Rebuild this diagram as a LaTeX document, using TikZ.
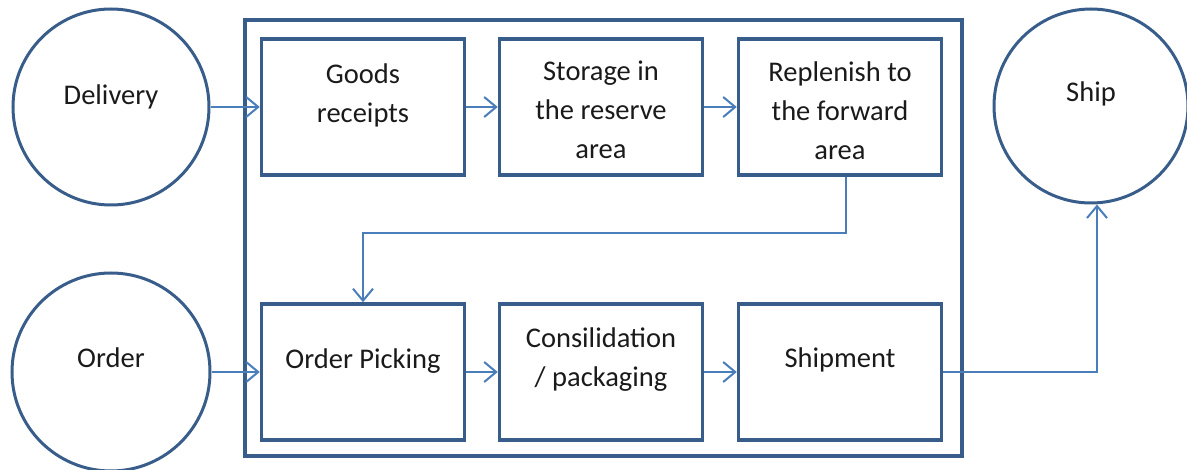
\documentclass[tikz,border=0pt]{standalone}
\usepackage{fontspec}
\setmainfont{Carlito}
\usetikzlibrary{arrows.meta}
\definecolor{boxblue}{HTML}{385D8A}
\definecolor{arrblue}{HTML}{4A7EBB}
\definecolor{txt}{HTML}{1A1A1A}
\begin{document}
\begin{tikzpicture}[x=1pt,y=-1pt,
  circ/.style={circle, draw=boxblue, line width=3pt, minimum size=#1, inner sep=0pt},
  stepbox/.style={rectangle, draw=boxblue, line width=3.5pt, minimum width=203pt, minimum height=136pt, inner sep=0pt},
  framebox/.style={rectangle, draw=boxblue, line width=3.5pt, minimum width=717pt, minimum height=436pt, inner sep=0pt},
  lbl/.style={align=center, inner sep=0pt, text=txt, font=\fontsize{28.5pt}{39pt}\selectfont,
    execute at begin node=\strut, execute at end node=\strut},
  arr/.style={draw=arrblue, line width=2pt, -{Straight Barb[length=12pt,width=20pt]}}
]
\useasboundingbox (0,0) rectangle (1187,470);
% frame
\node[framebox] (frame) at (603.5,238) {};
% circles
\node[circ=196pt] (delivery) at (111,107) {};
\node[circ=198pt] (order) at (111,372) {};
\node[circ=194pt] (ship) at (1091,106) {};
\node[lbl] (tdelivery) at (111,97) {Delivery};
\node[lbl] (torder) at (111,360) {Order};
\node[lbl] (tship) at (1091,94) {Ship};
% boxes
\node[stepbox] (goods) at (363,107) {};
\node[stepbox] (storage) at (601,107) {};
\node[stepbox] (repl) at (840,107) {};
\node[stepbox] (pick) at (363,372) {};
\node[stepbox] (cons) at (601,372) {};
\node[stepbox] (shipm) at (840,372) {};
\node[lbl] (tgoods) at (363,99) {Goods\\receipts};
\node[lbl] (tstorage) at (601,116) {Storage in\\the reserve\\area};
\node[lbl] (trepl) at (840,116) {Replenish to\\the forward\\area};
\node[lbl] (tpick) at (363,361) {Order Picking};
\node[lbl] (tcons) at (601,363) {Consilidation\\/ packaging};
\node[lbl] (tshipm) at (840,360) {Shipment};
% connectors
\draw[arr] (delivery.east) -- (goods.west);
\draw[arr] (goods.east) -- (storage.west);
\draw[arr] (storage.east) -- (repl.west);
\coordinate (bend) at (0,233);
\draw[arr] ([xshift=6pt]repl.south) -- ([xshift=6pt]repl.south |- bend) -| (pick.north);
\draw[arr] (order.east) -- (order.east -| pick.west);
\draw[arr] (pick.east) -- (cons.west);
\draw[arr] (cons.east) -- (shipm.west);
\draw[arr] (shipm.east) -| ([xshift=6pt]ship.south);
\end{tikzpicture}
\end{document}
